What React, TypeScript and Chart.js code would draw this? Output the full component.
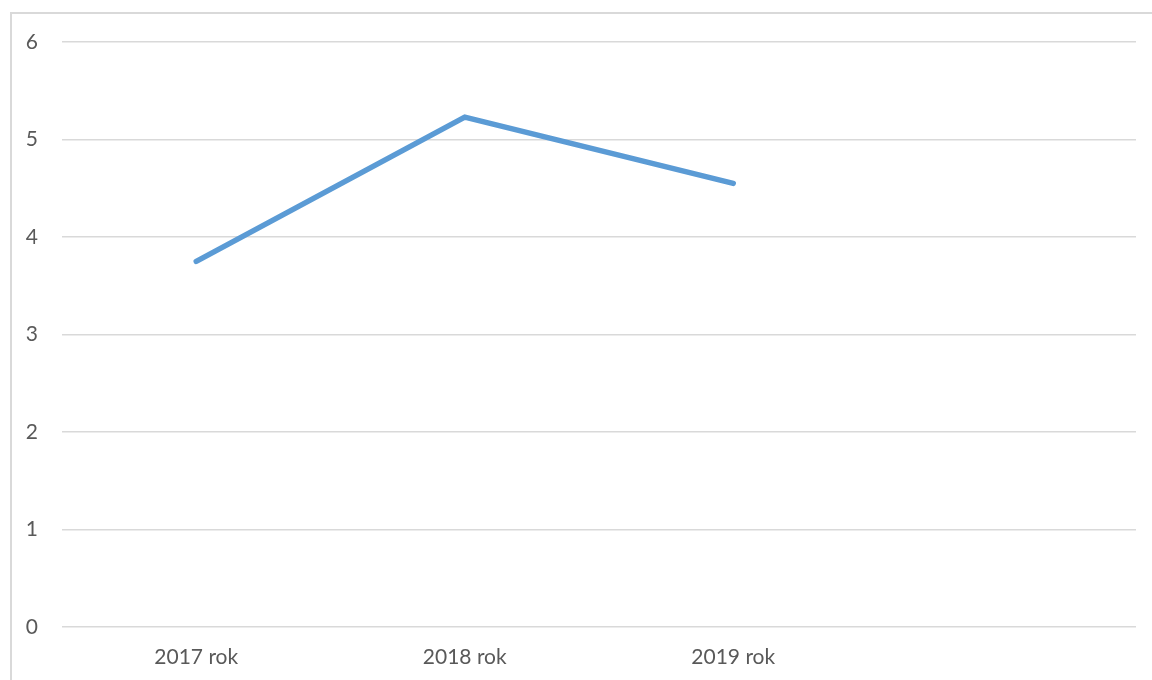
import React, { useEffect, useRef } from "react";
import { Chart, registerables } from "chart.js";

Chart.register(...registerables);

const categories = ["2017 rok", "2018 rok", "2019 rok", ""];
const values = [3.75, 5.23, 4.55, null];
const yTicks = [0, 1, 2, 3, 4, 5, 6];

export default function App() {
  const ref = useRef<HTMLCanvasElement | null>(null);
  useEffect(() => {
    if (!ref.current) return;
    const chart = new Chart(ref.current, {
      type: "line",
      data: {
        labels: categories,
        datasets: [
          {
            data: values,
            borderColor: "#5b9bd5",
            backgroundColor: "#5b9bd5",
            borderWidth: 5.5,
            borderCapStyle: "round",
            borderJoinStyle: "round",
            pointRadius: 0,
            tension: 0,
            fill: false,
          },
        ],
      },
      options: {
        animation: false,
        responsive: false,
        maintainAspectRatio: false,
        layout: { padding: { top: 42, right: 16, left: 0, bottom: 0 } },
        plugins: { legend: { display: false }, tooltip: { enabled: false } },
        scales: {
          x: {
            type: "category",
            offset: true,
            grid: { display: false, drawTicks: false },
            border: { display: false },
            ticks: {
              color: "#595959",
              font: { family: "Lato", size: 21 },
              padding: 18,
              maxRotation: 0,
              autoSkip: false,
            },
            afterFit: (s: any) => {
              s.height = 53;
            },
          },
          y: {
            min: 0,
            max: 6,
            afterBuildTicks: (s: any) => {
              s.ticks = yTicks.map((v) => ({ value: v }));
            },
            grid: { color: "#d9d9d9", lineWidth: 1.5, drawTicks: false },
            border: { display: false },
            ticks: {
              color: "#595959",
              font: { family: "Lato", size: 21 },
              padding: 24,
            },
            afterFit: (s: any) => {
              s.width = 62;
            },
          },
        },
      },
    });
    return () => chart.destroy();
  }, []);
  return (
    <div
      style={{
        position: "fixed",
        left: 0,
        top: 0,
        width: 1152,
        height: 680,
        background: "#ffffff",
        overflow: "hidden",
      }}
    >
      <div
        style={{
          position: "absolute",
          left: 10,
          top: 12,
          width: 1200,
          height: 720,
          border: "2px solid #d9d9d9",
          boxSizing: "border-box",
        }}
      />
      <canvas
        ref={ref}
        width={1152}
        height={680}
        style={{ position: "absolute", left: 0, top: 0, width: 1152, height: 680 }}
      />
    </div>
  );
}
